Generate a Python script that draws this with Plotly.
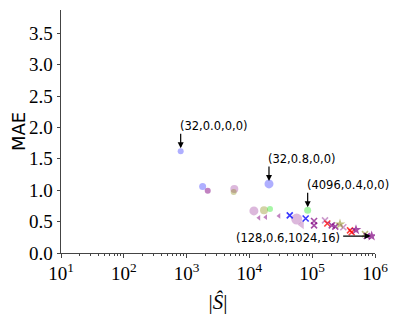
import math

import plotly.graph_objects as go

# |S| vs MAE, grouped by marker family
circle_x = [805, 1800, 2170, 5750, 5620, 20500, 11800, 17100, 21300, 84700, 56600]
circle_y = [1.62, 1.06, 0.99, 1.02, 0.97, 1.10, 0.67, 0.68, 0.70, 0.68, 0.54]
circle_c = ["blue", "blue", "purple", "violet", "olive", "blue", "violet", "olive", "green", "green", "violet"]

tri_x = [14200, 18200, 29600, 68100]
tri_y = [0.56, 0.57, 0.59, 0.45]
tri_c = ["purple", "purple", "purple", "violet"]

cross_x = [43900, 78700, 107000, 107000, 160000, 174000, 205000, 233000, 313000, 400000, 425000, 693000, 740000]
cross_y = [0.60, 0.55, 0.51, 0.44, 0.52, 0.47, 0.44, 0.42, 0.41, 0.36, 0.33, 0.30, 0.27]
cross_c = ["dblue", "dblue", "purple", "purple", "violet", "red", "purple", "purple", "violet", "red", "red", "olive", "purple"]

star_x = [277000, 498000, 885000]
star_y = [0.46, 0.37, 0.27]
star_c = ["olive", "purple", "purple"]

labels = ["(32,0.0,0,0)", "(32,0.8,0,0)", "(4096,0.4,0,0)", "(128,0.6,1024,16)"]
label_x = [805, 20500, 84700, 885000]
label_y = [1.62, 1.10, 0.68, 0.27]

x_ticks = [1, 2, 3, 4, 5, 6]
y_ticks = [0.0, 0.5, 1.0, 1.5, 2.0, 2.5, 3.0, 3.5]

palette = {
    "blue": "rgba(0,0,255,0.45)",
    "dblue": "rgba(20,20,255,0.85)",
    "purple": "rgba(128,0,128,0.7)",
    "violet": "rgba(128,0,128,0.4)",
    "olive": "rgba(128,128,0,0.5)",
    "green": "rgba(0,230,0,0.5)",
    "red": "rgba(255,0,0,0.75)",
}
circle_size = [6, 7, 6, 8, 6, 9, 9, 8, 6, 7, 11]

fig = go.Figure()
fig.add_trace(go.Scatter(x=circle_x, y=circle_y, mode="markers",
                         marker=dict(symbol="circle", size=circle_size,
                                     color=[palette[c] for c in circle_c], line=dict(width=0))))
fig.add_trace(go.Scatter(x=tri_x, y=tri_y, mode="markers",
                         marker=dict(symbol="triangle-left", size=[5, 5, 5, 8],
                                     color=[palette[c] for c in tri_c], line=dict(width=0))))
fig.add_trace(go.Scatter(x=cross_x, y=cross_y, mode="markers",
                         marker=dict(symbol="x-thin", size=6,
                                     line=dict(width=1.6, color=[palette[c] for c in cross_c]))))
fig.add_trace(go.Scatter(x=star_x, y=star_y, mode="markers",
                         marker=dict(symbol="star", size=8,
                                     color=[palette[c] for c in star_c], line=dict(width=0))))

ann_font = dict(family="DejaVu Sans", size=11.5, color="black")
# vertical arrows above the first three points, text starting at the arrow
for i in range(3):
    px = math.log10(label_x[i])
    fig.add_annotation(x=px, y=label_y[i], text="", showarrow=True, ax=0, ay=-19,
                       arrowhead=2, arrowsize=1, arrowwidth=1.2, arrowcolor="black", standoff=3)
    fig.add_annotation(x=px, y=label_y[i], text=labels[i], showarrow=False, font=ann_font,
                       xanchor="left", yanchor="bottom", xshift=-3, yshift=16)
# horizontal arrow for the last one
px = math.log10(label_x[3])
fig.add_annotation(x=px, y=label_y[3], text="", showarrow=True, ax=-30, ay=0,
                   arrowhead=2, arrowsize=1, arrowwidth=1.2, arrowcolor="black", standoff=1)
fig.add_annotation(x=px, y=label_y[3], text=labels[3], showarrow=False, font=ann_font,
                   xanchor="right", yanchor="middle", xshift=-30, yshift=-2)

minor_vals = [m * 10 ** k for k in range(1, 6) for m in range(2, 10)]

# page body adds ~8px offset, so the figure is a bit smaller than the window
fig.update_layout(
    width=399, height=306,
    margin=dict(l=53, r=32, t=2, b=61),
    plot_bgcolor="white", paper_bgcolor="white",
    showlegend=False,
    font=dict(family="Liberation Serif", size=19, color="black"),
    xaxis=dict(type="log", range=[1, 6], showgrid=False, zeroline=False, automargin=False,
               showline=True, linecolor="#444", linewidth=1,
               ticks="outside", ticklen=3.5, tickcolor="#444",
               tickvals=[10 ** k for k in x_ticks],
               ticktext=[f"10<sup>{k}</sup>" for k in x_ticks],
               minor=dict(tickvals=minor_vals, ticks="outside", ticklen=2, tickcolor="#444"),
               title=dict(text="|<i>Ŝ</i>|", font=dict(size=21), standoff=12)),
    yaxis=dict(range=[0, 3.87], showgrid=False, zeroline=False, automargin=False,
               showline=True, linecolor="#444", linewidth=1,
               ticks="outside", ticklen=3.5, tickcolor="#444",
               tickvals=y_ticks, ticktext=[f"{v:.1f}" for v in y_ticks],
               title=dict(text="MAE", font=dict(family="DejaVu Sans", size=18), standoff=8)),
)

fig.write_html("out.html")
